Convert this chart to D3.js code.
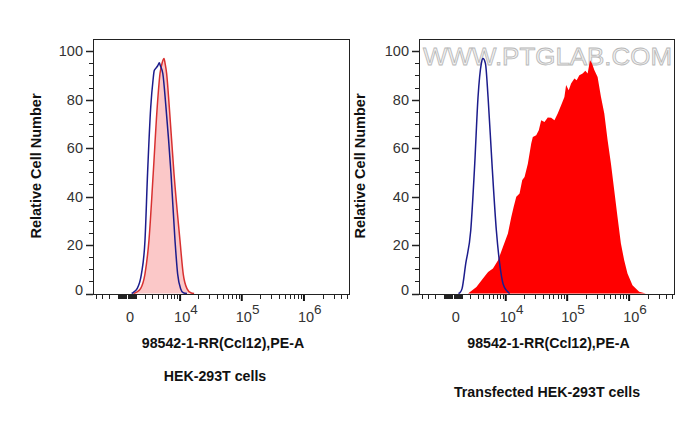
<!DOCTYPE html>
<html>
<head>
<meta charset="utf-8">
<script src="https://cdn.jsdelivr.net/npm/d3@7"></script>
<style>
  body { margin: 0; background: #fff; }
  svg { display: block; font-family: "Liberation Sans", Arial, sans-serif; }
</style>
</head>
<body>
<svg width="695" height="423"></svg>
<script>
const width = 695, height = 423;

// PE-A intensity vs relative cell number
// left panel: HEK-293T, isotype control (blue) and antibody (red)
const leftCtrlX = [500, 700, 1100, 1600, 2050, 2400, 2850, 3200, 3400, 3700, 4000, 4300, 4500, 5000, 5700, 7000, 8200, 9100, 10200, 11300, 13000];
const leftCtrlY = [0, 0.5, 2, 8, 22, 50, 77, 88, 92, 93, 94, 95.2, 94, 90.8, 77, 49.6, 22, 8, 2, 0.3, 0];
const leftAbX = [700, 1000, 1500, 2044, 2590, 3235, 3908, 4429, 4900, 5267, 5500, 5867, 6536, 7879, 9945, 11280, 13000, 15000, 17000];
const leftAbY = [0, 0.5, 2, 8, 22, 49.6, 77, 90.8, 95.5, 97, 95, 90.8, 77, 49.6, 22, 8, 2, 0.3, 0];

// right panel: transfected HEK-293T
const rightCtrlX = [600, 750, 1000, 1426, 2044, 2590, 3080, 3626, 3908, 4365, 4901, 5779, 6911, 7879, 9000, 10500, 11600];
const rightCtrlY = [0, 0.3, 2, 12.4, 26, 53.6, 81, 95, 97, 95, 81, 53.6, 26, 12.4, 4, 1, 0];
const rightAbX = [1703, 2836, 3908, 4902, 6021, 7399, 8952, 10869, 12367, 13520, 14953, 16917, 18723, 20419, 23097,
  26208, 27804, 31567, 34770, 38019, 42950, 48536, 55062, 62244, 70367, 79800, 90203, 96074, 105792, 115625,
  130644, 142301, 157235, 177726, 196422, 213864, 233700, 251741, 274113, 309795, 351405, 397290, 448875,
  509010, 574845, 649515, 736725, 832485, 940785, 1132590, 1451220, 1860195];
const rightAbY = [0, 2.7, 6.2, 8.9, 10.3, 13.7, 19.2, 24.8, 31.6, 35.7, 39.9, 41.3, 46.8, 48.1, 53.6,
  61.9, 64.6, 65.3, 67.4, 71.5, 70.8, 72.6, 72.5, 71.5, 74.3, 77.7, 81.1, 86, 83.9, 86.7,
  88.7, 88, 90.1, 90.8, 91.9, 90.8, 96.3, 94.9, 92.2, 89.4, 81.1, 74.3, 63.3,
  53.6, 42.6, 31.6, 20.6, 13.7, 8.3, 3.4, 0.7, 0];

const yTicks = [0, 20, 40, 60, 80, 100];
const xMajor = [1e4, 1e5, 1e6];
const xMajorExp = ["4", "5", "6"];
const xTitle = "98542-1-RR(Ccl12),PE-A";
const yTitle = "Relative Cell Number";
const panelTitles = ["HEK-293T cells", "Transfected HEK-293T cells"];

const C = 2850;                       // linear width of the biexponential axis
const tr = v => Math.asinh(v / C);
const X_MIN = -4600, X_MAX = 5.3e6;

// minor tick values of the logicle-like axis
const minorTicks = [];
[-4000, -3000, -2000, -1000].forEach(v => minorTicks.push(v));
for (let k = -9; k <= 9; k++) if (k !== 0) minorTicks.push(k * 100);
for (let e = 3; e <= 6; e++)
  for (let m = 1; m <= 9; m++) {
    const v = m * Math.pow(10, e);
    if (v < X_MAX && !xMajor.includes(v)) minorTicks.push(v);
  }

const panels = [
  { x0: 93, x1: 349, ctrlX: leftCtrlX, ctrlY: leftCtrlY, abX: leftAbX, abY: leftAbY,
    fill: "#fbc8c8", stroke: "#d83030", yLabelX: 36, title: panelTitles[0], titleY: 376, watermark: false },
  { x0: 419, x1: 674, ctrlX: rightCtrlX, ctrlY: rightCtrlY, abX: rightAbX, abY: rightAbY,
    fill: "#ff0000", stroke: null, yLabelX: 360, title: panelTitles[1], titleY: 392, watermark: true }
];

const frameTop = 39.5, frameBottom = 294;
const y = d3.scaleLinear().domain([0, 100]).range([293.5, 51.2]);

const svg = d3.select("svg");

panels.forEach(p => {
  const x = d3.scaleLinear().domain([tr(X_MIN), tr(X_MAX)]).range([p.x0, p.x1]);
  const px = v => x(tr(v));
  const g = svg.append("g");

  if (p.watermark) {
    g.append("text")
      .attr("x", p.x0 + 4).attr("y", 65)
      .attr("textLength", 249).attr("lengthAdjust", "spacingAndGlyphs")
      .attr("font-size", 24)
      .attr("fill", "#f1f1f1").attr("stroke", "#b8b8b8").attr("stroke-width", 0.8)
      .text("WWW.PTGLAB.COM");
  }

  const ab = p.abX.map((v, i) => [px(v), y(p.abY[i])]);
  const ctrl = p.ctrlX.map((v, i) => [px(v), y(p.ctrlY[i])]);
  const curve = p.watermark ? d3.curveLinear : d3.curveMonotoneX;

  g.append("path")
    .attr("d", d3.area().x(d => d[0]).y0(y(0)).y1(d => d[1]).curve(curve)(ab))
    .attr("fill", p.fill);
  if (p.stroke) {
    g.append("path")
      .attr("d", d3.line().curve(curve)(ab))
      .attr("fill", "none").attr("stroke", p.stroke).attr("stroke-width", 1.5);
  }
  g.append("path")
    .attr("d", d3.line().curve(d3.curveMonotoneX)(ctrl))
    .attr("fill", "none").attr("stroke", "#1c1c8c").attr("stroke-width", 1.5);

  // frame
  g.append("path")
    .attr("d", `M${p.x0},${frameBottom}V${frameTop}H${p.x1}V${frameBottom}H${p.x0}`)
    .attr("fill", "none").attr("stroke", "#222").attr("stroke-width", 1)
    .attr("shape-rendering", "crispEdges");

  // y ticks
  const yMinor = d3.range(0, 101, 5);
  g.selectAll(".ymin").data(yMinor).enter().append("line")
    .attr("x1", d => p.x0 - (d % 20 === 0 ? 7 : 4)).attr("x2", p.x0)
    .attr("y1", d => Math.round(y(d)) + 0.5).attr("y2", d => Math.round(y(d)) + 0.5)
    .attr("stroke", "#222").attr("stroke-width", d => d % 20 === 0 ? 1.5 : 1);
  g.selectAll(".ylab").data(yTicks).enter().append("text")
    .attr("x", p.x0 - 10).attr("y", d => y(d) - (d === 0 ? 4 : 0)).attr("dy", "0.36em")
    .attr("text-anchor", "end").attr("font-size", 14.5).attr("fill", "#333")
    .text(d => d);

  // x ticks
  g.selectAll(".xmin").data(minorTicks).enter().append("line")
    .attr("x1", d => Math.round(px(d)) + 0.5).attr("x2", d => Math.round(px(d)) + 0.5)
    .attr("y1", frameBottom + 1).attr("y2", frameBottom + 5)
    .attr("stroke", "#222").attr("stroke-width", 1);
  g.selectAll(".xmaj").data(xMajor).enter().append("line")
    .attr("x1", d => px(d)).attr("x2", d => px(d))
    .attr("y1", frameBottom + 1).attr("y2", frameBottom + 7)
    .attr("stroke", "#111").attr("stroke-width", 2);

  g.append("text")
    .attr("x", px(0) + 3).attr("y", 322)
    .attr("text-anchor", "middle").attr("font-size", 14.5).attr("fill", "#333")
    .text("0");
  xMajor.forEach((v, i) => {
    const t = g.append("text")
      .attr("x", px(v) - 6).attr("y", 322)
      .attr("font-size", 14.5).attr("fill", "#333");
    t.append("tspan").text("10");
    t.append("tspan").attr("dy", -8).attr("font-size", 13.5).text(xMajorExp[i]);
  });

  // axis titles
  svg.append("text")
    .attr("transform", `translate(${p.yLabelX},166) rotate(-90)`)
    .attr("text-anchor", "middle").attr("dy", "0.35em")
    .attr("font-size", 14.5).attr("font-weight", "bold").attr("fill", "#111")
    .text(yTitle);
  svg.append("text")
    .attr("x", (p.x0 + p.x1) / 2 + 2).attr("y", 343).attr("dy", "0.35em")
    .attr("text-anchor", "middle").attr("font-size", 14.2).attr("font-weight", "bold").attr("fill", "#111")
    .text(xTitle);
  svg.append("text")
    .attr("x", p.watermark ? 547 : 215).attr("y", p.titleY).attr("dy", "0.35em")
    .attr("text-anchor", "middle").attr("font-size", 14.2).attr("font-weight", "bold").attr("fill", "#111")
    .text(p.title);
});
</script>
</body>
</html>
